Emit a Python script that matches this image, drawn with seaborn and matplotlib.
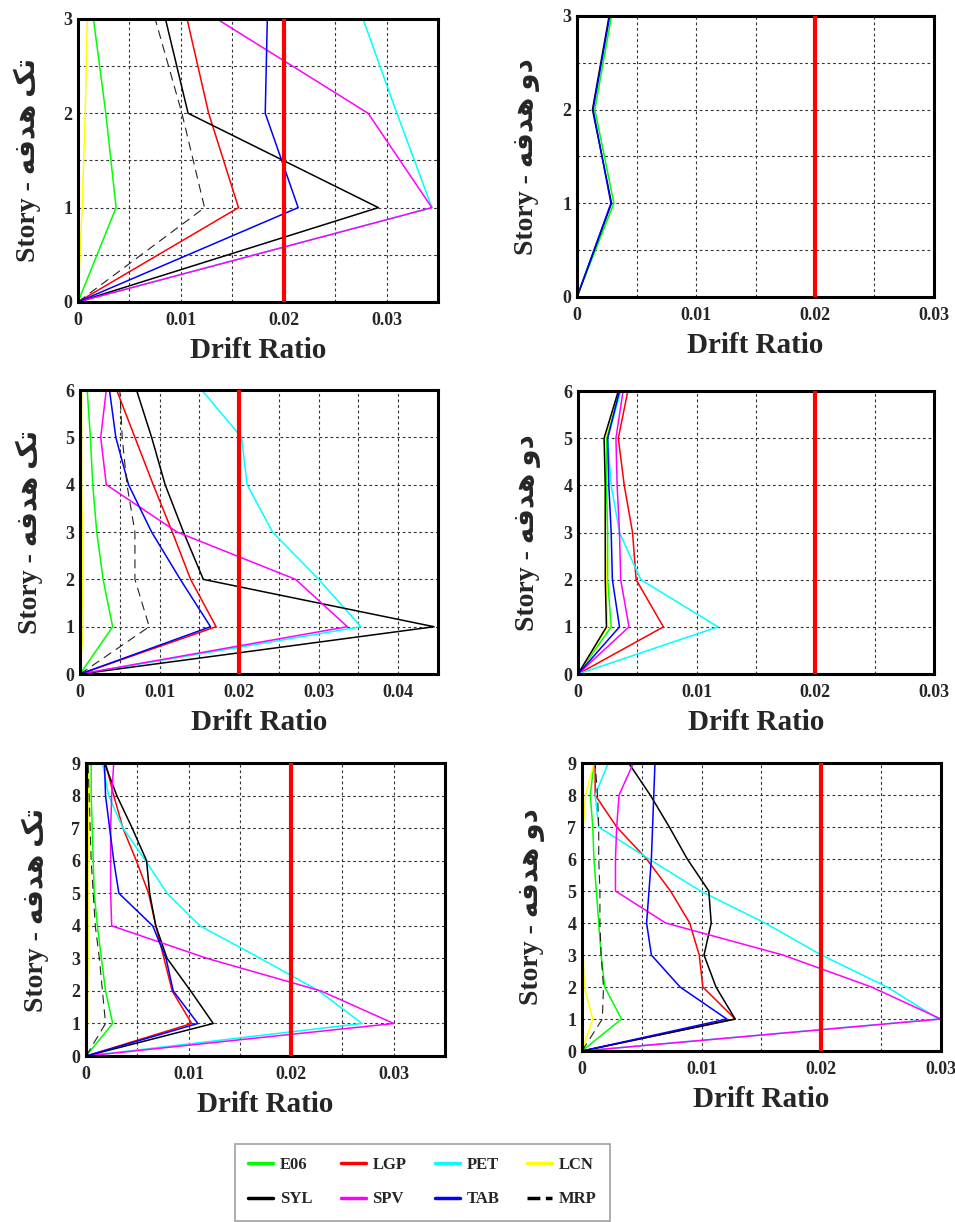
import pandas as pd
import seaborn as sns
import matplotlib.pyplot as plt
from matplotlib.lines import Line2D
from matplotlib.ticker import MultipleLocator, FuncFormatter

# drift ratio per story (index 0 = base)
p1_single = {
    "E06": [0, 0.0037, 0.0027, 0.0015],
    "LGP": [0, 0.0156, 0.0127, 0.0106],
    "PET": [0, 0.0344, 0.0310, 0.0277],
    "LCN": [0, 0.0004, 0.0007, 0.0009],
    "SYL": [0, 0.0292, 0.0107, 0.0085],
    "SPV": [0, 0.0344, 0.0282, 0.0135],
    "TAB": [0, 0.0214, 0.0182, 0.0184],
    "MRP": [0, 0.0123, 0.0101, 0.0075],
}
p1_dual = {
    "E06": [0, 0.0031, 0.0015, 0.0029],
    "SYL": [0, 0.0029, 0.0013, 0.0027],
    "TAB": [0, 0.00285, 0.00135, 0.00275],
}
p2_single = {
    "E06": [0, 0.0041, 0.0029, 0.0021, 0.0016, 0.0013, 0.0009],
    "LGP": [0, 0.0171, 0.0139, 0.0116, 0.0092, 0.0069, 0.0046],
    "PET": [0, 0.0353, 0.0300, 0.0242, 0.0210, 0.0203, 0.0153],
    "LCN": [0, 0.0004, 0.0003, 0.0003, 0.0002, 0.0002, 0.0002],
    "SYL": [0, 0.0445, 0.0155, 0.0130, 0.0107, 0.0090, 0.0071],
    "SPV": [0, 0.0336, 0.0271, 0.0122, 0.0033, 0.0026, 0.0033],
    "TAB": [0, 0.0164, 0.0126, 0.0090, 0.0061, 0.0045, 0.0037],
    "MRP": [0, 0.0087, 0.0069, 0.0069, 0.0059, 0.0053, 0.0050],
}
p2_dual = {
    "E06": [0, 0.0028, 0.0025, 0.0025, 0.0024, 0.0024, 0.0035],
    "LGP": [0, 0.0072, 0.0049, 0.0046, 0.0039, 0.0034, 0.0042],
    "PET": [0, 0.0118, 0.0053, 0.0035, 0.0028, 0.0025, 0.0036],
    "LCN": [0, 0.0025, 0.0024, 0.0023, 0.0023, 0.0023, 0.0034],
    "SYL": [0, 0.0024, 0.0023, 0.0023, 0.0023, 0.0022, 0.0034],
    "SPV": [0, 0.0043, 0.0036, 0.0035, 0.0033, 0.0032, 0.0038],
    "TAB": [0, 0.0035, 0.0029, 0.0028, 0.0026, 0.0025, 0.0035],
}
p3_single = {
    "E06": [0, 0.0026, 0.0019, 0.0015, 0.0011, 0.0008, 0.0007, 0.0006, 0.0005, 0.0005],
    "LGP": [0, 0.0103, 0.0084, 0.0076, 0.0068, 0.0061, 0.0049, 0.0036, 0.0027, 0.0019],
    "PET": [0, 0.0269, 0.0227, 0.0170, 0.0111, 0.0079, 0.0058, 0.0036, 0.0022, 0.0016],
    "LCN": [0, 0.00015, 0.00015, 0.0002, 0.0002, 0.0002, 0.0002, 0.00025, 0.00025, 0.0003],
    "SYL": [0, 0.0124, 0.0102, 0.0079, 0.0068, 0.0062, 0.0059, 0.0045, 0.0030, 0.0018],
    "SPV": [0, 0.0300, 0.0229, 0.0118, 0.0025, 0.0024, 0.0024, 0.0024, 0.0025, 0.0027],
    "TAB": [0, 0.0109, 0.0085, 0.0078, 0.0065, 0.0032, 0.0027, 0.0023, 0.0019, 0.0018],
    "MRP": [0, 0.0019, 0.0016, 0.0013, 0.0009, 0.0007, 0.0005, 0.0004, 0.0003, 0.0002],
}
p3_dual = {
    "E06": [0, 0.0033, 0.0019, 0.0016, 0.0014, 0.0012, 0.0010, 0.0009, 0.0007, 0.0010],
    "LGP": [0, 0.0128, 0.0101, 0.0098, 0.0090, 0.0074, 0.0054, 0.0029, 0.0011, 0.0011],
    "PET": [0, 0.0298, 0.0255, 0.0200, 0.0153, 0.0099, 0.0056, 0.0014, 0.0011, 0.0022],
    "LCN": [0, 0.0009, 0.0002, 0.0001, 0.0001, 0.0001, 0.0001, 0.0001, 0.0003, 0.0010],
    "SYL": [0, 0.0128, 0.0112, 0.0102, 0.0108, 0.0106, 0.0088, 0.0073, 0.0057, 0.0039],
    "SPV": [0, 0.0300, 0.0242, 0.0168, 0.0070, 0.0028, 0.0028, 0.0029, 0.0031, 0.0043],
    "TAB": [0, 0.0121, 0.0082, 0.0058, 0.0054, 0.0056, 0.0058, 0.0059, 0.0060, 0.0061],
    "MRP": [0, 0.0017, 0.0018, 0.0016, 0.0015, 0.0015, 0.0014, 0.0014, 0.0013, 0.0011],
}

drift_limit = 0.02
models = ["E06", "LGP", "PET", "LCN", "SYL", "SPV", "TAB", "MRP"]
colors = {"E06": "#00ff00", "LGP": "#ff0000", "PET": "#00ffff", "LCN": "#ffff00",
          "SYL": "#000000", "SPV": "#ff00ff", "TAB": "#0000ff", "MRP": "#222222"}
dashes = {m: "" for m in models}
dashes["MRP"] = (8, 5)
widths = {m: 1.1 for m in models}
widths["MRP"] = 0.8

# persian labels, written as presentation forms in visual order
single_txt = "Story - \uFEEA\uFED3\uFEAA\uFEEB \uFB8F\uFE97"   # تک هدفه
dual_txt = "Story - \uFEEA\uFED3\uFEAA\uFEEB \uFEED\uFEA9"     # دو هدفه

sns.set_style("white")
plt.rcParams["font.family"] = ["Liberation Serif", "DejaVu Sans"]
plt.rcParams["font.weight"] = "bold"


def to_long(panel):
    rows = []
    for name, vals in panel.items():
        for story, v in enumerate(vals):
            rows.append((name, story, v))
    return pd.DataFrame(rows, columns=["model", "story", "drift"])


fig = plt.figure(figsize=(9.55, 12.22), dpi=100)

panels = [
    (p1_single, 3, 0.035, single_txt, [0.0817, 0.7529, 0.377, 0.2316]),
    (p1_dual, 3, 0.030, dual_txt, [0.6042, 0.7570, 0.3738, 0.2300]),
    (p2_single, 6, 0.045, single_txt, [0.0838, 0.4484, 0.3749, 0.2324]),
    (p2_dual, 6, 0.030, dual_txt, [0.6052, 0.4484, 0.3728, 0.2316]),
    (p3_single, 9, 0.035, single_txt, [0.0901, 0.1358, 0.3759, 0.2398]),
    (p3_dual, 9, 0.030, dual_txt, [0.6094, 0.1399, 0.3759, 0.2357]),
]

fmt = FuncFormatter(lambda v, _: "0" if abs(v) < 1e-9 else f"{v:.2f}")

for data, n_story, xmax, ylab, pos in panels:
    ax = fig.add_axes(pos)
    df = to_long(data)
    sns.lineplot(data=df, x="drift", y="story", hue="model", style="model",
                 size="model", sizes=widths, palette=colors, dashes=dashes,
                 sort=False, estimator=None, legend=False, ax=ax)
    ax.axvline(drift_limit, color="#ff0000", lw=3.0, zorder=5)

    ax.set_xlim(0, xmax)
    ax.set_ylim(0, n_story)
    ax.xaxis.set_major_locator(MultipleLocator(0.01))
    ax.xaxis.set_minor_locator(MultipleLocator(0.005))
    ax.xaxis.set_major_formatter(fmt)
    ax.yaxis.set_major_locator(MultipleLocator(1))
    if n_story == 3:
        ax.yaxis.set_minor_locator(MultipleLocator(0.5))
    ax.grid(which="both", color="#333333", linestyle=(0, (2.5, 2.5)), lw=0.8)
    ax.tick_params(which="both", length=0, labelsize=13)
    ax.tick_params(axis="x", pad=7)
    ax.tick_params(axis="y", pad=4)
    for lab in ax.get_xticklabels() + ax.get_yticklabels():
        lab.set_fontweight("bold")
    for sp in ax.spines.values():
        sp.set_color("black")
        sp.set_linewidth(2.2)
    ax.set_xlabel("Drift Ratio", fontsize=21, fontweight="bold", labelpad=6)
    ax.set_ylabel(ylab, fontsize=20, fontweight="bold", labelpad=16)

handles = [Line2D([], [], color="black" if m == "MRP" else colors[m], lw=2.5,
                  linestyle="--" if m == "MRP" else "-") for m in models]
# column-major fill so rows read E06 LGP PET LCN / SYL SPV TAB MRP
order = ["E06", "SYL", "LGP", "SPV", "PET", "TAB", "LCN", "MRP"]
leg = fig.legend([handles[models.index(m)] for m in order], order, ncol=4,
                 loc="lower left", bbox_to_anchor=(0.246, 0.001, 0.393, 0.063),
                 mode="expand", borderaxespad=0, fancybox=False, edgecolor="#888888",
                 prop={"family": "Liberation Serif", "weight": "bold", "size": 12},
                 handlelength=1.5, handletextpad=0.4, labelspacing=1.1,
                 borderpad=0.8, columnspacing=1.5)
leg.get_frame().set_linewidth(1.2)

fig.savefig("out.png", dpi=100)
